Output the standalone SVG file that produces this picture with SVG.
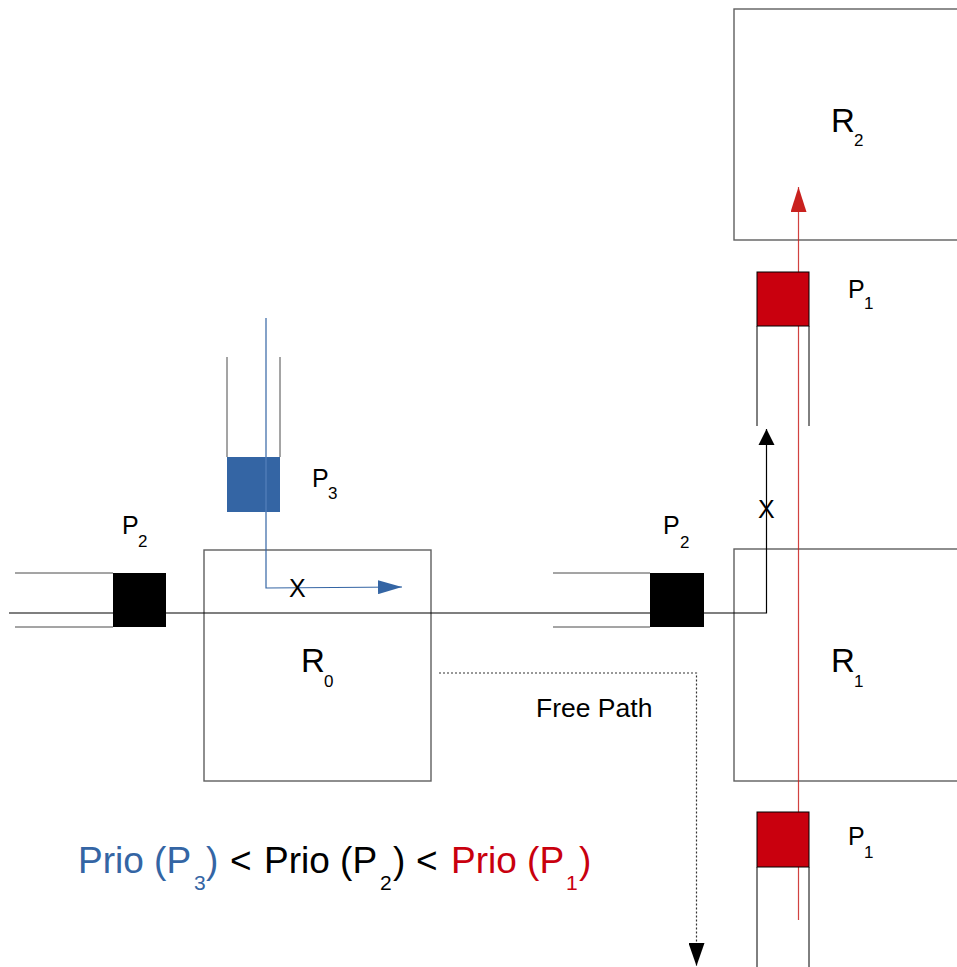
<svg xmlns="http://www.w3.org/2000/svg" width="957" height="967" viewBox="0 0 957 967">
  <style>
    .router { fill: none; stroke: #5f5f5f; stroke-width: 1.4; }
    .lane { fill: none; stroke: #000; stroke-width: 1; }
    .lane-grey { fill: none; stroke: #4a4a4a; stroke-width: 1; }
    .lbl { font-family: "Liberation Sans", Arial, sans-serif; fill: #000; }
    .big { font-size: 33px; }
    .mid { font-size: 25px; }
    .sub { font-size: 17px; }
    .prio { font-family: "Liberation Sans", Arial, sans-serif; font-size: 37px; }
    .prio-sub { font-family: "Liberation Sans", Arial, sans-serif; font-size: 21px; }
  </style>
  <defs>
    <marker id="ahBlack" markerWidth="16" markerHeight="24" refX="16" refY="8" orient="auto" markerUnits="userSpaceOnUse" viewBox="0 0 16 16">
      <path d="M0,0 L16,8 L0,16 z" fill="#000"/>
    </marker>
    <marker id="ahBlue" markerWidth="24" markerHeight="14" refX="24" refY="7" orient="auto" markerUnits="userSpaceOnUse" viewBox="0 0 24 14">
      <path d="M0,0 L24,7 L0,14 z" fill="#3465a4"/>
    </marker>
    <marker id="ahRed" markerWidth="25" markerHeight="16" refX="25" refY="8" orient="auto" markerUnits="userSpaceOnUse" viewBox="0 0 25 16">
      <path d="M0,0 L25,8 L0,16 z" fill="#c9211e"/>
    </marker>
    <marker id="ahDown" markerWidth="23" markerHeight="16" refX="23" refY="8" orient="auto" markerUnits="userSpaceOnUse" viewBox="0 0 23 16">
      <path d="M0,0 L23,8 L0,16 z" fill="#000"/>
    </marker>
  </defs>

  <rect width="957" height="967" fill="#fff"/>

  <!-- routers -->
  <g id="R0">
    <rect class="router" x="204" y="550" width="227" height="231"/>
    <text class="lbl big" x="301" y="672">R</text>
    <text class="lbl sub" x="324" y="687">0</text>
  </g>
  <g id="R1">
    <rect class="router" x="734" y="549" width="240" height="232"/>
    <text class="lbl big" x="831" y="672">R</text>
    <text class="lbl sub" x="854" y="687">1</text>
  </g>
  <g id="R2">
    <rect class="router" x="734" y="9" width="240" height="231"/>
    <text class="lbl big" x="831" y="132">R</text>
    <text class="lbl sub" x="854" y="146">2</text>
  </g>

  <!-- buffer lanes -->
  <g id="lanes">
    <line class="lane-grey" x1="15" y1="573" x2="113" y2="573"/>
    <line class="lane-grey" x1="15" y1="627" x2="113" y2="627"/>
    <line class="lane-grey" x1="553" y1="573" x2="650" y2="573"/>
    <line class="lane-grey" x1="553" y1="627" x2="650" y2="627"/>
    <line class="lane-grey" x1="227" y1="357" x2="227" y2="457"/>
    <line class="lane-grey" x1="280" y1="357" x2="280" y2="457"/>
    <line class="lane" x1="757" y1="326" x2="757" y2="426"/>
    <line class="lane" x1="809" y1="326" x2="809" y2="426"/>
    <line class="lane" x1="757" y1="867" x2="757" y2="967"/>
    <line class="lane" x1="809" y1="867" x2="809" y2="967"/>
  </g>

  <!-- connectors -->
  <g id="connectors">
    <!-- P2 path through R0 and turning north at R1 -->
    <polyline fill="none" stroke="#000" stroke-width="1.2" points="9,613 766.5,613 766.5,429" marker-end="url(#ahBlack)"/>
    <!-- P3 path, blocked -->
    <polyline fill="none" stroke="#3465a4" stroke-width="1.2" points="266,318 266,588 402,587" marker-end="url(#ahBlue)"/>
    <!-- P1 path north through R1 into R2 -->
    <line x1="798.5" y1="920" x2="798.5" y2="187" stroke="#c9211e" stroke-width="1.2" stroke-opacity="0.85" marker-end="url(#ahRed)"/>
    <!-- free path -->
    <polyline fill="none" stroke="#333" stroke-width="1.2" stroke-dasharray="2,2" points="439,673 696.5,673 696.5,966" marker-end="url(#ahDown)"/>
  </g>

  <!-- packets -->
  <g id="P2-left">
    <rect x="113" y="573" width="53" height="54" fill="#000"/>
    <text class="lbl mid" x="122" y="534">P</text>
    <text class="lbl sub" x="138" y="547">2</text>
  </g>
  <g id="P2-right">
    <rect x="650" y="573" width="54" height="54" fill="#000"/>
    <text class="lbl mid" x="663" y="534">P</text>
    <text class="lbl sub" x="680" y="548">2</text>
  </g>
  <g id="P3">
    <rect x="227" y="457" width="53" height="55" fill="#3465a4"/>
    <line x1="266" y1="457" x2="266" y2="512" stroke="#5a86c0" stroke-width="1"/>
    <text class="lbl mid" x="312" y="487">P</text>
    <text class="lbl sub" x="328" y="499">3</text>
  </g>
  <g id="P1-top">
    <rect x="757" y="272" width="52" height="54" fill="#c9000e" stroke="#000" stroke-width="1"/>
    <text class="lbl mid" x="848" y="298">P</text>
    <text class="lbl sub" x="864" y="309">1</text>
  </g>
  <g id="P1-bottom">
    <rect x="757" y="812" width="52" height="55" fill="#c9000e" stroke="#000" stroke-width="1"/>
    <text class="lbl mid" x="848" y="845">P</text>
    <text class="lbl sub" x="864" y="858">1</text>
  </g>

  <!-- blocking marks -->
  <g id="marks">
    <text class="lbl mid" x="289" y="597">X</text>
    <text class="lbl mid" x="758" y="518">X</text>
  </g>

  <g id="free-path-label">
    <text class="lbl" x="536" y="717" font-size="26.5">Free Path</text>
  </g>

  <!-- priority legend -->
  <g id="legend">
    <text class="prio" x="78" y="873" fill="#3465a4">Prio (P</text>
    <text class="prio-sub" x="194" y="890" fill="#3465a4">3</text>
    <text class="prio" x="206" y="873" fill="#3465a4">)</text>
    <text class="prio" x="230" y="873" fill="#000">&lt;</text>
    <text class="prio" x="264" y="873" fill="#000">Prio (P</text>
    <text class="prio-sub" x="380" y="890" fill="#000">2</text>
    <text class="prio" x="393" y="873" fill="#000">)</text>
    <text class="prio" x="416" y="873" fill="#000">&lt;</text>
    <text class="prio" x="451" y="873" fill="#c9000e">Prio (P</text>
    <text class="prio-sub" x="566" y="890" fill="#c9000e">1</text>
    <text class="prio" x="579" y="873" fill="#c9000e">)</text>
  </g>
</svg>
